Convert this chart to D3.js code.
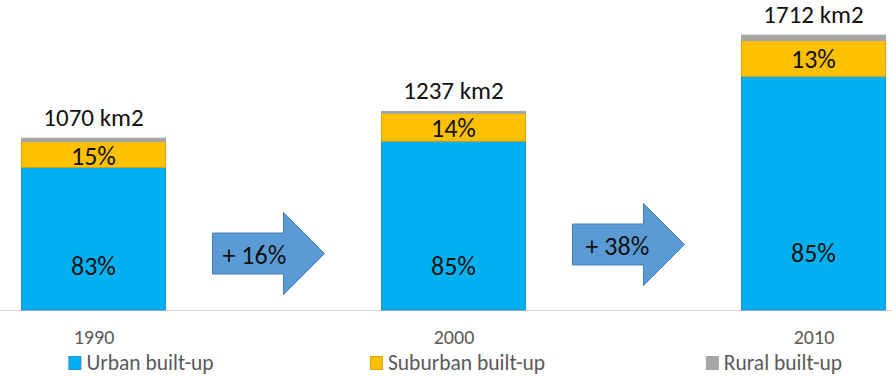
<!DOCTYPE html>
<head>
  <meta charset="utf-8">
  <title>Built-up area 1990 - 2010</title>
  <style>
    body { margin: 0; background: #fff; }
    text { font-family: Carlito, Lato, sans-serif; }
  </style>
</head>

<body>
  <script src="https://cdn.jsdelivr.net/npm/d3@7/dist/d3.min.js"></script>
  <script>
    // data
    var years = ["1990", "2000", "2010"];
    var totals = [1070, 1237, 1712];          // km2
    var urbanPct = [83, 85, 85];
    var suburbanPct = [15, 14, 13];
    var ruralPct = [2, 1, 2];
    var growthLabels = ["+ 16%", "+ 38%"];
    var seriesNames = ["Urban built-up", "Suburban built-up", "Rural built-up"];
    var keys = ["urban", "suburban", "rural"];

    var colors = ["#00B0F0", "#FFC000", "#A5A5A5"];
    var strokes = ["#2A8CD4", "#D9A400", "#A5A5A5"];

    // dimensions
    var w = 892, h = 377,
        base = 310,
        barW = 145;

    var svg = d3.select("body").append("svg").attr("width", w).attr("height", h);

    // scales
    var x = d3.scalePoint().domain(years).range([93.5, 813.5]);
    var y = d3.scaleLinear().domain([0, 1800]).range([base, 21]);

    // build rows in km2 for the stack
    var rows = years.map(function(yr, i) {
      return {
        year: yr,
        urban: totals[i] * urbanPct[i] / 100,
        suburban: totals[i] * suburbanPct[i] / 100,
        rural: totals[i] * ruralPct[i] / 100
      };
    });
    var stacked = d3.stack().keys(keys)(rows);

    // baseline across the whole width
    svg.append("line")
      .attr("x1", 0).attr("x2", w)
      .attr("y1", y(0) + 0.5).attr("y2", y(0) + 0.5)
      .attr("stroke", "#d9d9d9").attr("stroke-width", 1.2);

    // bars
    svg.selectAll("g.layer")
      .data(stacked)
      .enter().append("g")
      .attr("class", "layer")
      .attr("fill", function(d, i) { return colors[i]; })
      .attr("stroke", function(d, i) { return strokes[i]; })
      .selectAll("rect")
      .data(function(d) { return d; })
      .enter().append("rect")
      .attr("x", function(d) { return x(d.data.year) - barW / 2 + 0.5; })
      .attr("y", function(d) { return y(d[1]); })
      .attr("width", barW - 1)
      .attr("height", function(d) { return y(d[0]) - y(d[1]); })
      .attr("stroke-width", 1);

    // total labels above bars
    svg.selectAll("text.total")
      .data(years)
      .enter().append("text")
      .attr("class", "total")
      .attr("x", function(d) { return x(d); })
      .attr("y", function(d, i) { return y(totals[i]) - 12; })
      .attr("text-anchor", "middle")
      .style("font-size", "25px")
      .attr("fill", "#111")
      .text(function(d, i) { return totals[i] + " km2"; });

    // suburban share, centred in the orange segment
    svg.selectAll("text.sub")
      .data(stacked[1])
      .enter().append("text")
      .attr("class", "sub")
      .attr("x", function(d) { return x(d.data.year); })
      .attr("y", function(d) { return (y(d[0]) + y(d[1])) / 2 + 1; })
      .attr("dominant-baseline", "central")
      .attr("text-anchor", "middle")
      .style("font-size", "26px")
      .attr("fill", "#111")
      .text(function(d, i) { return suburbanPct[i] + "%"; });

    // urban share, low in the blue segment
    svg.selectAll("text.urb")
      .data(stacked[0])
      .enter().append("text")
      .attr("class", "urb")
      .attr("x", function(d) { return x(d.data.year); })
      .attr("y", function(d, i) { return y(0) - 44 - (i == 2 ? 13 : 0); })
      .attr("dominant-baseline", "central")
      .attr("text-anchor", "middle")
      .style("font-size", "26px")
      .attr("fill", "#111")
      .text(function(d, i) { return urbanPct[i] + "%"; });

    // growth arrows between bars
    function arrowPath(cx, cy) {
      var l = cx - 56, hx = cx + 15, t = cx + 56;
      return "M" + l + "," + (cy - 20.5) +
        "L" + hx + "," + (cy - 20.5) +
        "L" + hx + "," + (cy - 41) +
        "L" + t + "," + cy +
        "L" + hx + "," + (cy + 41) +
        "L" + hx + "," + (cy + 20.5) +
        "L" + l + "," + (cy + 20.5) + "Z";
    }

    var arrows = svg.selectAll("g.arrow")
      .data(growthLabels)
      .enter().append("g")
      .attr("class", "arrow");

    function arrowX(i) { return (x(years[i]) + x(years[i + 1])) / 2 - 5; }
    function arrowY(i) { return y(0) - 56.5 - 9 * i; }

    arrows.append("path")
      .attr("d", function(d, i) { return arrowPath(arrowX(i), arrowY(i)); })
      .attr("fill", "#5B9BD5")
      .attr("stroke", "#4A7FB5")
      .attr("stroke-width", 1);

    arrows.append("text")
      .attr("x", function(d, i) { return arrowX(i) - 46 + (i == 1 ? 3 : 0); })
      .attr("y", function(d, i) { return arrowY(i) + 1; })
      .attr("dominant-baseline", "central")
      .style("font-size", "26px")
      .attr("fill", "#111")
      .text(function(d) { return d; });

    // year labels
    var xAxis = d3.axisBottom(x).tickSize(0).tickPadding(20);
    var gx = svg.append("g")
      .attr("transform", "translate(0," + y(0) + ")")
      .call(xAxis);
    gx.select(".domain").remove();
    gx.selectAll("text")
      .style("font-size", "20px")
      .style("font-family", "Carlito, Lato, sans-serif")
      .attr("fill", "#595959");

    // legend
    var lx = d3.scalePoint().domain(seriesNames).range([141, 774]);
    var legend = svg.selectAll("g.legend")
      .data(seriesNames)
      .enter().append("g")
      .attr("class", "legend");

    legend.append("text")
      .attr("y", 370)
      .style("font-size", "21.5px")
      .attr("fill", "#595959")
      .text(function(d) { return d; });

    legend.each(function(d, i) {
      var g = d3.select(this);
      var tw = g.select("text").node().getComputedTextLength();
      var left = lx(d) - (tw + 18) / 2;
      g.append("rect")
        .attr("x", left + 0.5)
        .attr("y", 356.5)
        .attr("width", 12)
        .attr("height", 13)
        .attr("fill", colors[i])
        .attr("stroke", strokes[i]);
      g.select("text").attr("x", left + 18);
    });
  </script>
</body>
